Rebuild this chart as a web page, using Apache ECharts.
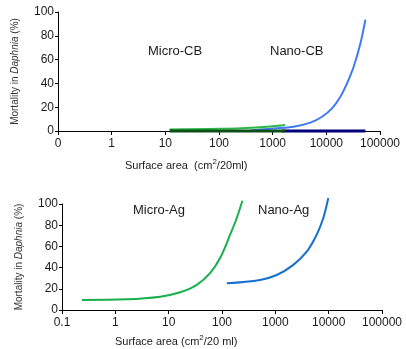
<!DOCTYPE html>
<html>
<head>
<meta charset="utf-8">
<script src="https://cdn.jsdelivr.net/npm/echarts@6/dist/echarts.min.js"></script>
<style>
  html, body { margin: 0; padding: 0; background: #fff; }
  #chart { width: 406px; height: 349px; }
</style>
</head>
<body>
<div id="chart"></div>
<script>
// top panel: carbon black
const microCbX = [12, 100, 500, 1000, 1700];
const microCbY = [1.3, 1.8, 3, 4, 5];
const nanoCbX = [382, 1040, 2450, 5030, 8310, 12770, 18250, 24300, 32300, 43100, 53400];
const nanoCbY = [0.5, 2.2, 3.6, 7, 12, 19, 28.8, 40, 54, 73.5, 93.6];
const microCbZeroX = [12, 1700];
const nanoCbZeroX = [1500, 53400];

// bottom panel: silver
const microAgX = [0.237, 1.65, 6.93, 16.4, 33.7, 59.8, 92, 142, 189, 241];
const microAgY = [9.5, 10.1, 12.6, 16.7, 23.7, 34.7, 49, 71, 86.8, 103];
const nanoAgX = [123, 517, 1062, 2173, 3874, 5960, 7930, 9840];
const nanoAgY = [25.2, 28.4, 33, 42.6, 55, 71, 86.8, 105.7];

const yTicks = [0, 20, 40, 60, 80, 100];
const topXLabels = { 0.1: "0", 1: "1", 10: "10", 100: "100", 1000: "1000", 10000: "10000", 100000: "100000" };
const bottomXLabels = { 0.1: "0.1", 1: "1", 10: "10", 100: "100", 1000: "1000", 10000: "10000", 100000: "100000" };

const font = "Liberation Sans, Arial, sans-serif";
const ink = "#1a1a1a";

function pairs(xs, ys) {
  return xs.map((x, i) => [x, ys[i]]);
}

function labelFor(map) {
  return (v) => {
    const key = Object.keys(map).find((k) => Math.abs(Math.log10(v) - Math.log10(+k)) < 0.01);
    return key ? map[key] : "";
  };
}

function xAxisFor(gridIndex, map) {
  return {
    type: "log",
    gridIndex,
    logBase: 10,
    min: 0.1,
    max: 100000,
    axisLine: { lineStyle: { color: "#000", width: 1 } },
    axisTick: { length: 4, lineStyle: { color: "#000" } },
    axisLabel: { color: ink, fontFamily: font, fontSize: 12, margin: 7, formatter: labelFor(map) },
    splitLine: { show: false },
    minorTick: { show: false },
  };
}

function yAxisFor(gridIndex) {
  return {
    type: "value",
    gridIndex,
    min: yTicks[0],
    max: yTicks[yTicks.length - 1],
    interval: 20,
    axisLine: { show: true, lineStyle: { color: "#000", width: 1 } },
    axisTick: { show: true, length: 3, lineStyle: { color: "#000" } },
    axisLabel: { color: ink, fontFamily: font, fontSize: 12, margin: 4 },
    splitLine: { show: false },
    name: "{a|Mortality in }{b|Daphnia}{a| (%)}",
    nameLocation: "middle",
    nameRotate: 90,
    nameGap: 38,
    nameTextStyle: {
      rich: {
        a: { fontFamily: font, fontSize: 10, color: "#333" },
        b: { fontFamily: font, fontSize: 10, color: "#333", fontStyle: "italic" },
      },
    },
  };
}

function line(name, data, color, width, xi, extra) {
  return Object.assign({
    name,
    type: "line",
    xAxisIndex: xi,
    yAxisIndex: xi,
    data,
    smooth: 0.35,
    showSymbol: false,
    clip: false,
    lineStyle: { color, width },
    itemStyle: { color },
    z: 3,
  }, extra || {});
}

function title(text, x, y) {
  return {
    type: "text",
    left: x,
    top: y,
    style: { text, fontFamily: font, fontSize: 13, fill: ink },
  };
}

function xName(text, x, y) {
  return {
    type: "text",
    left: x,
    top: y,
    style: {
      text,
      fontFamily: font,
      fontSize: 11,
      fill: ink,
      rich: {
        a: { fontFamily: font, fontSize: 11, fill: ink },
        s: { fontFamily: font, fontSize: 8, fill: ink, padding: [0, 0, 7, 0] },
      },
    },
  };
}

const chart = echarts.init(document.getElementById("chart"), null, { renderer: "canvas" });

chart.setOption({
  animation: false,
  backgroundColor: "#fff",
  grid: [
    { left: 58, right: 26, top: 12, height: 119 },
    { left: 62, right: 24, top: 204, height: 106 },
  ],
  xAxis: [xAxisFor(0, topXLabels), xAxisFor(1, bottomXLabels)],
  yAxis: [yAxisFor(0), yAxisFor(1)],
  series: [
    line("Nano-CB zero", pairs(nanoCbZeroX, [0, 0]), "#00007a", 3, 0, { smooth: false, z: 4 }),
    line("Micro-CB zero", pairs(microCbZeroX, [0, 0]), "#0b4f16", 3, 0, { smooth: false, z: 4 }),
    line("Nano-CB", pairs(nanoCbX, nanoCbY), "#4079f5", 2, 0),
    line("Micro-CB", pairs(microCbX, microCbY), "#2cb74a", 2, 0),
    line("Micro-Ag", pairs(microAgX, microAgY), "#19b04c", 2, 1),
    line("Nano-Ag", pairs(nanoAgX, nanoAgY), "#1670cf", 2, 1),
  ],
  graphic: [
    title("Micro-CB", 148, 45),
    title("Nano-CB", 270, 45),
    title("Micro-Ag", 133, 204),
    title("Nano-Ag", 258, 204),
    xName("{a|Surface area  (cm}{s|2}{a|/20ml)}", 125, 158),
    xName("{a|Surface area (cm}{s|2}{a|/20 ml)}", 115, 334),
  ],
});
</script>
</body>
</html>
